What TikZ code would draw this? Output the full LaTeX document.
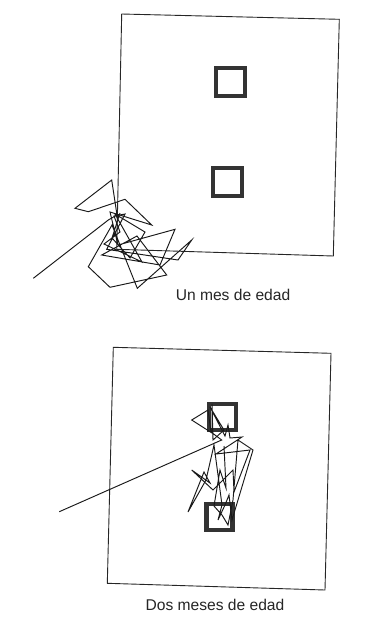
\documentclass[tikz,border=0pt]{standalone}
\usepackage{fontspec}
\setmainfont{Liberation Sans}
\usetikzlibrary{positioning}

\begin{document}
\begin{tikzpicture}[x=1pt, y=-1pt]
    \tikzset{
        frame/.style={draw=black!85, line width=0.9pt},
        target/.style={draw=black!80, line width=4.2pt},
        trace/.style={draw=black!90, line width=0.95pt, line join=miter},
        caption/.style={font=\fontsize{15.6}{18}\selectfont, text=black!85,
            inner sep=0pt}
    }

    % ==== Page ====
    \fill[white] (0,0) rectangle (383,630);
    \useasboundingbox (0,0) rectangle (383,630);

    % ==== Top panel: one month ====
    \draw[frame] (121.7,14) -- (339.3,19.3) -- (333.3,256) -- (116.7,249.3) -- cycle;
    \draw[target] (216.3,68) rectangle (244.7,96.3);
    \draw[target] (212.7,168) rectangle (242,196);

    % scan path
    \draw[trace] (33.3,278.3) -- (108.3,220) -- (117,215) -- (111.7,180)
        -- (75,208.3) -- (88.3,211.7) -- (125,199.3) -- (151.7,225)
        -- (110,212) -- (118,245) -- (175,229.3) -- (160,265)
        -- (101.7,255) -- (137,236) -- (166.7,275) -- (110,287.3)
        -- (88.3,266.7) -- (112,225) -- (137.3,288.3) -- (191.7,240)
        -- (178,260) -- (106.7,249.3) -- (125,214) -- (114,216)
        -- (120,232) -- (104,244) -- (142,262) -- (115,214)
        -- (145,232) -- (130,258) -- (112,238) -- (120,213);

    \node[caption] (lbl1) at (233,294.5) {Un mes de edad};

    % ==== Bottom panel: two months ====
    \draw[frame] (113.3,347.3) -- (331,353.3) -- (325,590) -- (107.3,583.3) -- cycle;
    \draw[target] (208.7,403.7) rectangle (235.7,430.3);
    \draw[target] (206.5,504) rectangle (232.5,530);

    % scan path
    \draw[trace] (59.3,511.7) -- (221.7,440) -- (211,432) -- (208,410)
        -- (191.7,420) -- (212,433) -- (212,404) -- (213,440)
        -- (224,430) -- (210,407) -- (225,436) -- (228,425)
        -- (230,438) -- (242,437) -- (216,454) -- (250,450)
        -- (234,492) -- (233,470) -- (213,490) -- (191.7,470)
        -- (210,483) -- (204,472) -- (188,512) -- (206,480)
        -- (214,445) -- (222,505) -- (218,520) -- (225,505)
        -- (229,495) -- (232,520) -- (253,450) -- (238,440)
        -- (233,500) -- (228,525) -- (222,515) -- (214,506)
        -- (220,470) -- (226,488) -- (224,446);

    \node[caption] (lbl2) at (215,604.5) {Dos meses de edad};
\end{tikzpicture}
\end{document}
